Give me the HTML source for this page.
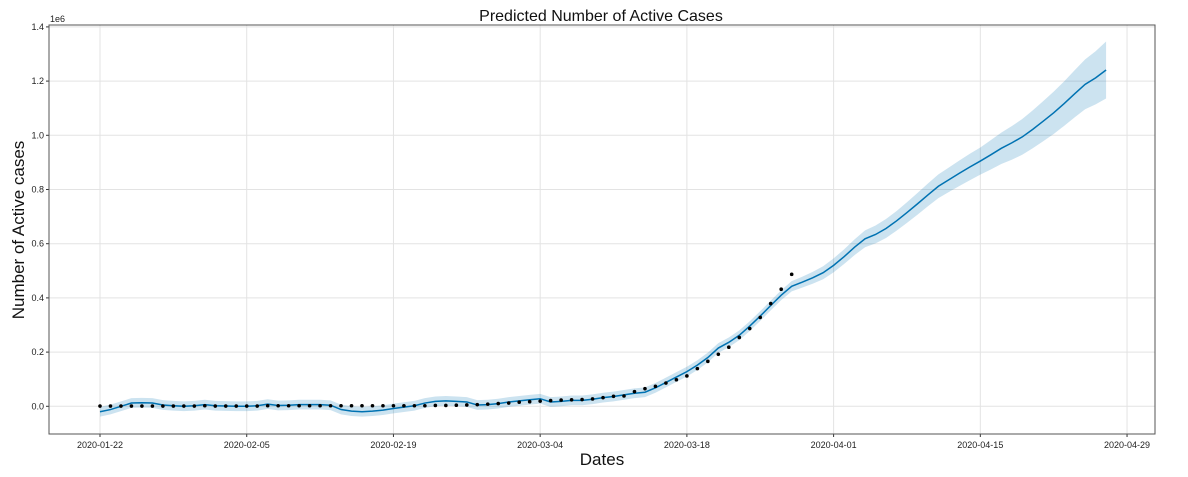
<!DOCTYPE html>
<html><head><meta charset="utf-8"><style>
html,body{margin:0;padding:0;background:#fff;}
svg{display:block;font-family:"Liberation Sans",sans-serif;}
</style></head><body>
<svg id="chart" width="1188" height="477" xmlns="http://www.w3.org/2000/svg"></svg>
<script>
// Data (values in millions, day index from 2020-01-22)
const actual = [0.001,0.001,0.001,0.001,0.001,0.001,0.001,0.001,0.001,0.001,0.002,0.001,0.001,0.001,0.001,0.001,0.002,0.002,0.002,0.002,0.002,0.002,0.002,0.002,0.002,0.002,0.002,0.002,0.002,0.002,0.002,0.002,0.003,0.003,0.004,0.005,0.006,0.008,0.010,0.012,0.015,0.017,0.019,0.021,0.023,0.024,0.025,0.027,0.032,0.037,0.038,0.054,0.065,0.074,0.086,0.098,0.112,0.139,0.166,0.192,0.218,0.254,0.287,0.328,0.379,0.432,0.487];
const yhat = [-0.02,-0.012,0,0.012,0.013,0.012,0.005,0.002,0,0.002,0.006,0.002,0.001,0,0,0.002,0.008,0.003,0.004,0.006,0.006,0.006,0.004,-0.012,-0.018,-0.02,-0.018,-0.014,-0.008,-0.003,0.002,0.012,0.018,0.02,0.018,0.016,0.005,0.006,0.01,0.016,0.02,0.024,0.028,0.016,0.018,0.022,0.022,0.026,0.032,0.036,0.042,0.048,0.052,0.068,0.088,0.108,0.128,0.152,0.18,0.215,0.236,0.262,0.296,0.333,0.372,0.41,0.443,0.458,0.474,0.493,0.52,0.552,0.587,0.618,0.634,0.656,0.684,0.715,0.747,0.78,0.812,0.836,0.86,0.883,0.905,0.928,0.952,0.972,0.994,1.022,1.052,1.083,1.117,1.153,1.188,1.212,1.241];
const halfWidth = [0.018,0.018,0.018,0.018,0.018,0.018,0.018,0.018,0.018,0.018,0.018,0.018,0.018,0.018,0.018,0.018,0.018,0.018,0.018,0.018,0.018,0.018,0.018,0.018,0.018,0.018,0.018,0.018,0.018,0.018,0.018,0.018,0.018,0.018,0.018,0.018,0.018,0.018,0.018,0.018,0.018,0.018,0.018,0.018,0.018,0.018,0.018,0.018,0.018,0.018,0.018,0.018,0.018,0.018,0.018,0.018,0.018,0.018,0.018,0.018,0.018,0.018,0.018,0.018,0.018,0.018,0.019,0.02,0.022,0.024,0.026,0.027,0.029,0.031,0.033,0.035,0.036,0.038,0.04,0.042,0.044,0.045,0.047,0.049,0.05,0.054,0.058,0.062,0.066,0.07,0.074,0.078,0.082,0.087,0.092,0.098,0.105];
const xTickDays = [0,14,28,42,56,70,84,98];
const xTickLabels = ["2020-01-22","2020-02-05","2020-02-19","2020-03-04","2020-03-18","2020-04-01","2020-04-15","2020-04-29"];
const yTicks = [0,0.2,0.4,0.6,0.8,1.0,1.2,1.4];
const yTickLabels = ["0.0","0.2","0.4","0.6","0.8","1.0","1.2","1.4"];

const NS="http://www.w3.org/2000/svg";
const svg=document.getElementById('chart');
const L=49,R=1155,T=25,B=434;
const xs=d=>100+d*10.48;
const ys=v=>406.3-v*271;
function mk(tag,attrs){const e=document.createElementNS(NS,tag);for(const k in attrs)e.setAttribute(k,attrs[k]);svg.appendChild(e);return e;}

// grid
xTickDays.forEach((d,i)=>{
  const g=mk('line',{x1:xs(d),x2:xs(d),y1:T,y2:B,stroke:'#e3e3e3','stroke-width':1});
  
  
  const tk=mk('line',{x1:xs(d),x2:xs(d),y1:B,y2:B+3,stroke:'#333'});
  
  
  const t=mk('text',{x:xs(d),y:B+14,'font-size':9,'text-anchor':'middle',fill:'#222'});
  t.textContent=xTickLabels[i];
  
  
});
yTicks.forEach((v,i)=>{
  const g=mk('line',{x1:L,x2:R,y1:ys(v),y2:ys(v),stroke:'#e3e3e3','stroke-width':1});
  
  
  const tk=mk('line',{x1:L-3,x2:L,y1:ys(v),y2:ys(v),stroke:'#333'});
  
  
  const t=mk('text',{x:L-5,y:ys(v)+3,'font-size':9,'text-anchor':'end',fill:'#222'});
  t.textContent=yTickLabels[i];
  
  
});

// band
let up=[],lo=[];
yhat.forEach((v,d)=>{up.push(xs(d)+','+ys(v+halfWidth[d]));lo.unshift(xs(d)+','+ys(v-halfWidth[d]));});
const band=mk('polygon',{points:up.concat(lo).join(' '),fill:'#0072B2','fill-opacity':0.2,stroke:'none'});


// line
const line=mk('polyline',{points:yhat.map((v,d)=>xs(d)+','+ys(v)).join(' '),fill:'none',stroke:'#0072B2','stroke-width':1.5});


// points
actual.forEach((v,d)=>{
  const c=mk('circle',{cx:xs(d),cy:ys(v),r:1.8,fill:'#000'});
  
  
});

// frame
const fr=mk('rect',{x:L,y:T,width:R-L,height:B-T,fill:'none',stroke:'#555','stroke-width':1});



const off=mk('text',{x:L+1,y:T-3,'font-size':9,fill:'#222'});off.textContent='1e6';


const title=mk('text',{x:601,y:21,'font-size':16,'text-anchor':'middle',fill:'#111'});title.textContent='Predicted Number of Active Cases';


const xl=mk('text',{x:602,y:465,'font-size':17,'text-anchor':'middle',fill:'#111'});xl.textContent='Dates';


const yl=mk('text',{x:0,y:0,'font-size':17,'text-anchor':'middle',fill:'#111',transform:'translate(24,230) rotate(-90)'});yl.textContent='Number of Active cases';


</script>
</body></html>
